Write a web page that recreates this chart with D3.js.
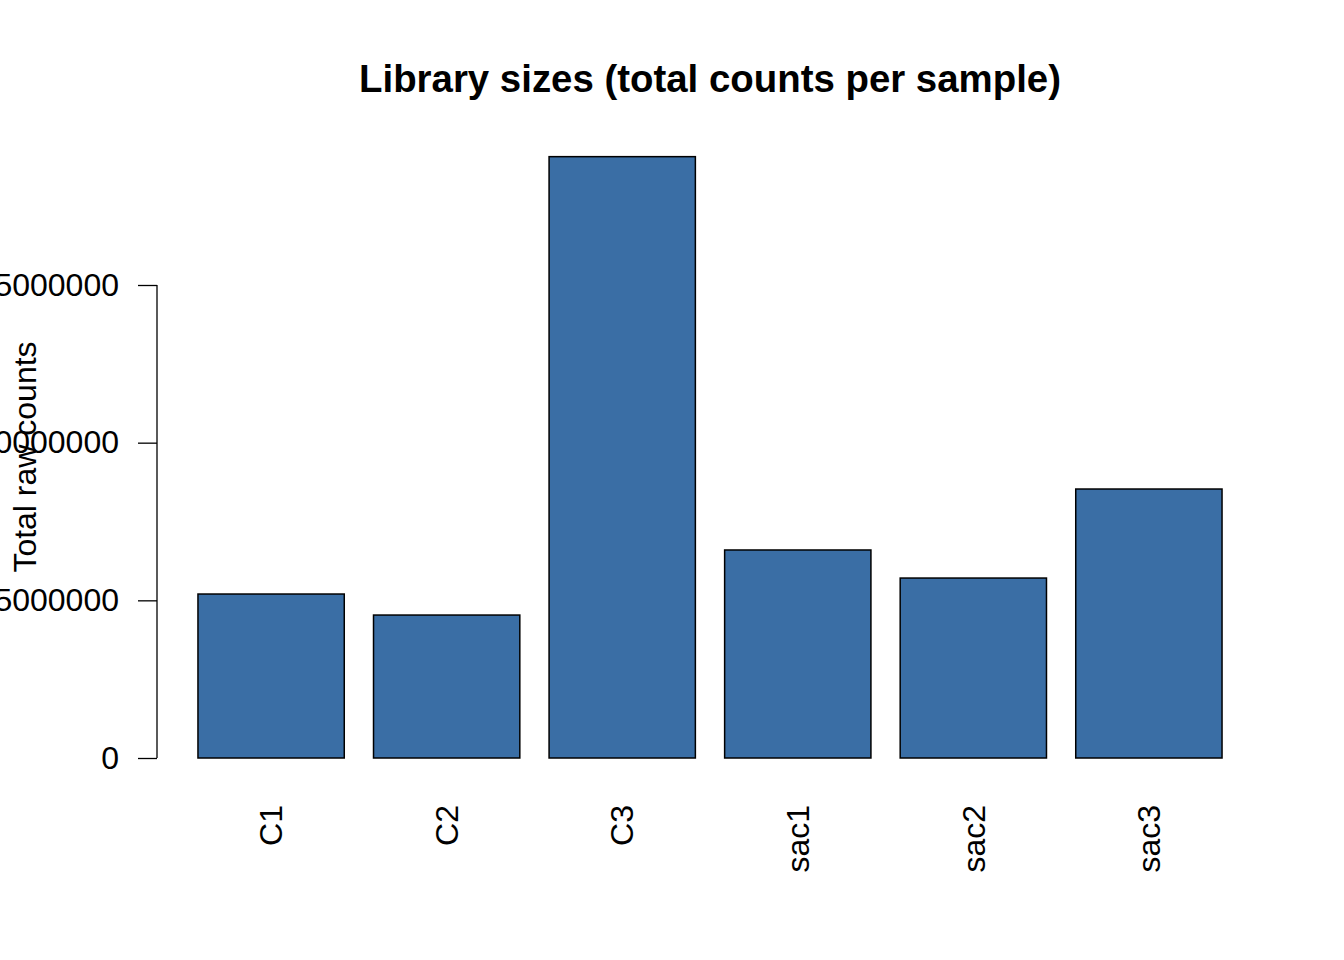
<!DOCTYPE html>
<html>
<head>
<meta charset="utf-8">
<script src="https://cdn.jsdelivr.net/npm/d3@7"></script>
<style>
  body { margin: 0; background: #fff; }
  text { font-family: "Liberation Sans", Arial, sans-serif; }
</style>
</head>
<body>
<svg></svg>
<script>
// data
var samples = ["C1", "C2", "C3", "sac1", "sac2", "sac3"];
var totals = [15600000, 13600000, 57210000, 19790000, 17120000, 25590000];
var yTicks = [0, 15000000, 30000000, 45000000];

var screen = {width: 1344, height: 960};

var svg = d3.select("svg")
    .attr("width", screen.width)
    .attr("height", screen.height);

// R barplot layout: width 1, space 0.2, 4% axis padding
var xScale = d3.scaleLinear()
    .domain([-0.08, 7.48])
    .range([157, 1263]);

var yScale = d3.scaleLinear()
    .domain([0, 45000000])
    .range([758, 285]);

var barLeft = function(i){ return 0.2 + i * 1.2; };

// bars
svg.append("g")
    .selectAll("rect")
    .data(totals)
    .enter()
    .append("rect")
    .attr("x", function(d, i){ return xScale(barLeft(i)); })
    .attr("width", function(d, i){ return xScale(barLeft(i) + 1) - xScale(barLeft(i)); })
    .attr("y", function(d){ return yScale(d); })
    .attr("height", function(d){ return yScale(0) - yScale(d); })
    .attr("fill", "#3a6ea5")
    .attr("stroke", "#000")
    .attr("stroke-width", 1.5);

// y axis
var yAxis = d3.axisLeft(yScale)
    .tickValues(yTicks)
    .tickFormat(d3.format("d"))
    .tickSize(19)
    .tickPadding(19)
    .tickSizeOuter(0);

var gy = svg.append("g")
    .attr("transform", "translate(157,0)")
    .call(yAxis);
gy.select(".domain").attr("stroke", "#000").attr("stroke-width", 1.3)
    .attr("d", "M0," + yScale(0) + "V" + yScale(45000000));
gy.selectAll(".tick line").attr("stroke", "#000").attr("stroke-width", 1.3);
gy.selectAll(".tick text")
    .attr("fill", "#000")
    .style("font-size", "32px")
    .style("font-family", "'Liberation Sans', Arial, sans-serif");

// x labels, rotated
svg.append("g")
    .selectAll("text")
    .data(samples)
    .enter()
    .append("text")
    .attr("transform", function(d, i){
        return "translate(" + xScale(barLeft(i) + 0.5) + ",805) rotate(-90)";
    })
    .attr("dy", "0.35em")
    .attr("text-anchor", "end")
    .style("font-size", "32px")
    .text(function(d){ return d; });

// y label
svg.append("text")
    .attr("transform", "translate(36,457) rotate(-90)")
    .attr("text-anchor", "middle")
    .style("font-size", "32px")
    .text("Total raw counts");

// title
svg.append("text")
    .attr("x", 710)
    .attr("y", 92)
    .attr("text-anchor", "middle")
    .style("font-size", "38.4px")
    .style("font-weight", "bold")
    .text("Library sizes (total counts per sample)");
</script>
</body>
</html>
